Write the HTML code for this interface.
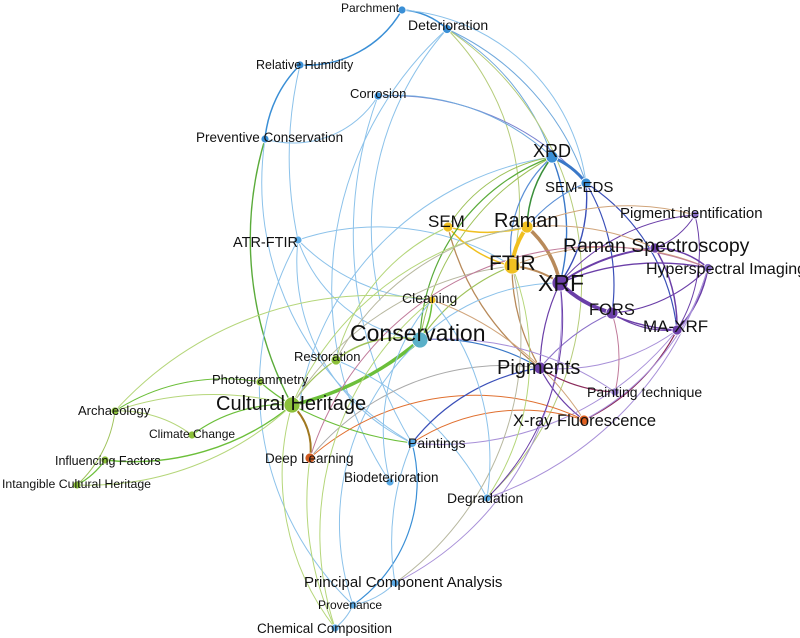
<!DOCTYPE html>
<html><head><meta charset="utf-8"><style>
html,body{margin:0;padding:0;background:#fff;width:800px;height:638px;overflow:hidden}
svg{display:block}
text{font-family:"Liberation Sans",sans-serif;fill:#111}
</style></head><body>
<svg width="800" height="638" viewBox="0 0 800 638" xmlns="http://www.w3.org/2000/svg">
<g fill="none" stroke-linecap="round">
<path d="M402 10 A70 70 0 0 1 447 29" stroke="#3a8fd6" stroke-width="1.5"/>
<path d="M402 10 A110 110 0 0 1 300 65" stroke="#3a8fd6" stroke-width="1.5"/>
<path d="M300 65 A120 120 0 0 0 265 139" stroke="#3a8fd6" stroke-width="1.5"/>
<path d="M265 139 A100 100 0 0 0 378 96" stroke="#8cc2ea" stroke-width="1"/>
<path d="M300 65 A400 400 0 0 0 298 240" stroke="#8cc2ea" stroke-width="1"/>
<path d="M402 10 A200 200 0 0 1 586 183" stroke="#8cc2ea" stroke-width="1"/>
<path d="M447 29 A230 230 0 0 1 552 157" stroke="#6fa8dc" stroke-width="1"/>
<path d="M447 29 A260 260 0 0 1 586 183" stroke="#6fa8dc" stroke-width="1"/>
<path d="M447 29 A300 300 0 0 0 380 300" stroke="#8cc2ea" stroke-width="1"/>
<path d="M447 29 A250 250 0 0 1 512 266" stroke="#b5cc7a" stroke-width="1"/>
<path d="M447 29 A300 300 0 0 1 487 498" stroke="#b5cc7a" stroke-width="1"/>
<path d="M447 29 A350 350 0 0 0 390 482" stroke="#8cc2ea" stroke-width="1"/>
<path d="M378 96 A260 260 0 0 1 586 183" stroke="#7b82d0" stroke-width="1"/>
<path d="M378 96 A230 230 0 0 1 552 157" stroke="#6fa8dc" stroke-width="1"/>
<path d="M378 96 A400 400 0 0 0 412 443" stroke="#8cc2ea" stroke-width="1"/>
<path d="M265 139 A350 350 0 0 0 292 405" stroke="#5aab3a" stroke-width="1.4"/>
<path d="M265 139 A300 300 0 0 0 412 443" stroke="#8cc2ea" stroke-width="1"/>
<path d="M552 157 A300 300 0 0 0 300 400" stroke="#8cc2ea" stroke-width="1"/>
<path d="M552 157 A250 250 0 0 0 420 340" stroke="#9fc25a" stroke-width="1"/>
<path d="M298 240 A200 200 0 0 0 432 300" stroke="#8cc2ea" stroke-width="1"/>
<path d="M298 240 A250 250 0 0 1 512 266" stroke="#8cc2ea" stroke-width="1"/>
<path d="M298 240 A150 150 0 0 0 420 340" stroke="#8cc2ea" stroke-width="1"/>
<path d="M298 240 A200 200 0 0 0 412 443" stroke="#8cc2ea" stroke-width="1"/>
<path d="M298 240 A300 300 0 0 0 353 605" stroke="#8cc2ea" stroke-width="1"/>
<path d="M552 157 A80 80 0 0 1 586 183" stroke="#3a78c8" stroke-width="3"/>
<path d="M552 157 A120 120 0 0 0 512 266" stroke="#5a8fd6" stroke-width="1.2"/>
<path d="M552 157 A200 200 0 0 1 560 283" stroke="#3a78c8" stroke-width="1.4"/>
<path d="M552 157 A120 120 0 0 0 527 227" stroke="#3a8f3a" stroke-width="1.5"/>
<path d="M552 157 A150 150 0 0 0 448 227" stroke="#9fc25a" stroke-width="1"/>
<path d="M586 183 A150 150 0 0 1 560 283" stroke="#3a4fb8" stroke-width="1.4"/>
<path d="M586 183 A150 150 0 0 0 527 227" stroke="#5a8fd6" stroke-width="1"/>
<path d="M586 183 A200 200 0 0 1 677 330" stroke="#3a4fb8" stroke-width="1.2"/>
<path d="M586 183 A200 200 0 0 1 612 313" stroke="#3a4fb8" stroke-width="1.2"/>
<path d="M527 227 A100 100 0 0 1 560 283" stroke="#b88a5a" stroke-width="3.5"/>
<path d="M512 266 A80 80 0 0 1 527 227" stroke="#f0c020" stroke-width="4"/>
<path d="M512 266 A120 120 0 0 1 448 227" stroke="#f0c020" stroke-width="1.5"/>
<path d="M448 227 A150 150 0 0 0 527 227" stroke="#f0c020" stroke-width="1.5"/>
<path d="M512 266 A100 100 0 0 1 560 283" stroke="#b88a5a" stroke-width="2"/>
<path d="M560 283 A120 120 0 0 0 612 313" stroke="#6b3fa8" stroke-width="4"/>
<path d="M560 283 A200 200 0 0 0 677 330" stroke="#6b3fa8" stroke-width="1.4"/>
<path d="M560 283 A200 200 0 0 1 655 248" stroke="#6b3fa8" stroke-width="2"/>
<path d="M560 283 A250 250 0 0 1 708 268" stroke="#6b3fa8" stroke-width="1.4"/>
<path d="M560 283 A200 200 0 0 0 540 368" stroke="#6b3fa8" stroke-width="1.2"/>
<path d="M560 283 A200 200 0 0 1 695 215" stroke="#6b3fa8" stroke-width="1"/>
<path d="M655 248 A80 80 0 0 1 708 268" stroke="#6b3fa8" stroke-width="1.5"/>
<path d="M655 248 A150 150 0 0 1 677 330" stroke="#6b3fa8" stroke-width="1.5"/>
<path d="M655 248 A80 80 0 0 0 695 215" stroke="#6b3fa8" stroke-width="1"/>
<path d="M708 268 A120 120 0 0 1 677 330" stroke="#6b3fa8" stroke-width="1.5"/>
<path d="M612 313 A100 100 0 0 0 677 330" stroke="#6b3fa8" stroke-width="1.2"/>
<path d="M612 313 A150 150 0 0 0 708 268" stroke="#6b3fa8" stroke-width="1.2"/>
<path d="M695 215 A150 150 0 0 1 677 330" stroke="#6b3fa8" stroke-width="1"/>
<path d="M512 266 A250 250 0 0 1 708 268" stroke="#d0a47a" stroke-width="1"/>
<path d="M527 227 A250 250 0 0 1 695 215" stroke="#d0a47a" stroke-width="1"/>
<path d="M527 227 A250 250 0 0 1 655 248" stroke="#d0a47a" stroke-width="1"/>
<path d="M448 227 A250 250 0 0 0 540 368" stroke="#b88a5a" stroke-width="1.3"/>
<path d="M512 266 A200 200 0 0 0 540 368" stroke="#b88a5a" stroke-width="1.3"/>
<path d="M540 368 A200 200 0 0 1 612 313" stroke="#8a6fc8" stroke-width="1"/>
<path d="M540 368 A150 150 0 0 0 584 420" stroke="#6b3fa8" stroke-width="1.2"/>
<path d="M540 368 A150 150 0 0 0 615 392" stroke="#8a2a5a" stroke-width="1.2"/>
<path d="M540 368 A200 200 0 0 0 677 330" stroke="#a890d8" stroke-width="1"/>
<path d="M677 330 A200 200 0 0 1 584 420" stroke="#8a2a5a" stroke-width="1.2"/>
<path d="M677 330 A300 300 0 0 1 412 443" stroke="#a890d8" stroke-width="1"/>
<path d="M612 313 A150 150 0 0 1 615 392" stroke="#c07a9a" stroke-width="1"/>
<path d="M708 268 A250 250 0 0 1 584 420" stroke="#a890d8" stroke-width="1"/>
<path d="M708 268 A350 350 0 0 1 487 498" stroke="#a890d8" stroke-width="1"/>
<path d="M420 340 A300 300 0 0 1 292 405" stroke="#6cbf3a" stroke-width="3.5"/>
<path d="M420 340 A100 100 0 0 0 336 360" stroke="#9fc25a" stroke-width="1.5"/>
<path d="M420 340 A80 80 0 0 0 432 300" stroke="#6cbf3a" stroke-width="1.5"/>
<path d="M420 340 A200 200 0 0 1 512 266" stroke="#9fc25a" stroke-width="1.2"/>
<path d="M420 340 A200 200 0 0 1 552 157" stroke="#5aab3a" stroke-width="1.2"/>
<path d="M420 340 A200 200 0 0 1 540 368" stroke="#3a78c8" stroke-width="1.2"/>
<path d="M420 340 A200 200 0 0 1 560 283" stroke="#8cc2ea" stroke-width="1"/>
<path d="M420 340 A250 250 0 0 0 353 605" stroke="#8cc2ea" stroke-width="1"/>
<path d="M292 405 A200 200 0 0 1 260 382" stroke="#6cbf3a" stroke-width="1.2"/>
<path d="M292 405 A150 150 0 0 0 192 435" stroke="#6cbf3a" stroke-width="1.2"/>
<path d="M292 405 A250 250 0 0 1 105 460" stroke="#6cbf3a" stroke-width="1.4"/>
<path d="M292 405 A300 300 0 0 1 77 485" stroke="#b5d67a" stroke-width="1"/>
<path d="M292 405 A300 300 0 0 0 115 411" stroke="#b5d67a" stroke-width="1"/>
<path d="M260 382 A200 200 0 0 0 115 411" stroke="#6cbf3a" stroke-width="1"/>
<path d="M115 411 A120 120 0 0 1 192 435" stroke="#b5d67a" stroke-width="1"/>
<path d="M115 411 A120 120 0 0 1 77 485" stroke="#9fc25a" stroke-width="1"/>
<path d="M115 411 A350 350 0 0 1 432 300" stroke="#b5d67a" stroke-width="1"/>
<path d="M105 460 A80 80 0 0 1 77 485" stroke="#6cbf3a" stroke-width="1.2"/>
<path d="M292 405 A60 60 0 0 1 310 458" stroke="#a07820" stroke-width="2"/>
<path d="M292 405 A150 150 0 0 1 336 360" stroke="#9fc25a" stroke-width="1.2"/>
<path d="M292 405 A300 300 0 0 1 512 266" stroke="#b8b8a0" stroke-width="1"/>
<path d="M292 405 A300 300 0 0 1 527 227" stroke="#b5d67a" stroke-width="1"/>
<path d="M292 405 A250 250 0 0 0 335 628" stroke="#b5d67a" stroke-width="1"/>
<path d="M292 405 A350 350 0 0 0 412 443" stroke="#6cbf3a" stroke-width="1"/>
<path d="M336 360 A200 200 0 0 1 448 227" stroke="#b5d67a" stroke-width="1"/>
<path d="M336 360 A250 250 0 0 1 527 227" stroke="#b8b8a0" stroke-width="1"/>
<path d="M336 360 A300 300 0 0 1 487 498" stroke="#8cc2ea" stroke-width="1"/>
<path d="M310 458 A250 250 0 0 1 584 420" stroke="#e07030" stroke-width="1"/>
<path d="M310 458 A300 300 0 0 1 708 268" stroke="#c07a9a" stroke-width="1"/>
<path d="M310 458 A250 250 0 0 1 540 368" stroke="#aaaaaa" stroke-width="1"/>
<path d="M310 458 A300 300 0 0 0 335 628" stroke="#b5d67a" stroke-width="1"/>
<path d="M412 443 A200 200 0 0 1 540 368" stroke="#3a4fb8" stroke-width="1.2"/>
<path d="M412 443 A200 200 0 0 1 584 420" stroke="#e07030" stroke-width="1"/>
<path d="M412 443 A150 150 0 0 1 353 605" stroke="#3a8fd6" stroke-width="1.2"/>
<path d="M412 443 A250 250 0 0 0 395 583" stroke="#8cc2ea" stroke-width="1"/>
<path d="M395 583 A80 80 0 0 1 353 605" stroke="#8cc2ea" stroke-width="1"/>
<path d="M353 605 A60 60 0 0 1 335 628" stroke="#8cc2ea" stroke-width="1"/>
<path d="M395 583 A300 300 0 0 0 512 266" stroke="#b8b8a0" stroke-width="1"/>
<path d="M395 583 A300 300 0 0 0 560 283" stroke="#a890d8" stroke-width="1"/>
<path d="M487 498 A250 250 0 0 0 512 266" stroke="#b5d67a" stroke-width="1"/>
<path d="M487 498 A250 250 0 0 0 560 283" stroke="#6b3fa8" stroke-width="1"/>
<path d="M487 498 A250 250 0 0 0 432 300" stroke="#8cc2ea" stroke-width="1"/>
<path d="M390 482 A200 200 0 0 1 432 300" stroke="#8cc2ea" stroke-width="1"/>
<path d="M584 420 A300 300 0 0 0 432 300" stroke="#d0a47a" stroke-width="1"/>
<path d="M615 392 A300 300 0 0 0 420 340" stroke="#a890d8" stroke-width="1"/>
<path d="M335 628 A300 300 0 0 1 432 300" stroke="#b5d67a" stroke-width="1"/>
</g>
<g stroke="#fff" stroke-width="0.8">
<circle cx="402" cy="10" r="4" fill="#3a8fd6"/>
<circle cx="447" cy="29" r="4.5" fill="#3a8fd6"/>
<circle cx="300" cy="65" r="4" fill="#3a8fd6"/>
<circle cx="378" cy="96" r="4" fill="#3a8fd6"/>
<circle cx="265" cy="139" r="4" fill="#3a8fd6"/>
<circle cx="552" cy="157" r="6" fill="#3a8fd6"/>
<circle cx="586" cy="183" r="5" fill="#3a8fd6"/>
<circle cx="695" cy="215" r="4" fill="#8a6fc8"/>
<circle cx="448" cy="227" r="5" fill="#f0c020"/>
<circle cx="527" cy="227" r="6" fill="#f0c020"/>
<circle cx="298" cy="240" r="4" fill="#5aaae6"/>
<circle cx="655" cy="248" r="5" fill="#6b3fa8"/>
<circle cx="512" cy="266" r="8" fill="#f0c020"/>
<circle cx="708" cy="268" r="4.5" fill="#8a6fc8"/>
<circle cx="560" cy="283" r="8" fill="#6b3fa8"/>
<circle cx="432" cy="300" r="4" fill="#f0c020"/>
<circle cx="612" cy="313" r="6" fill="#6b3fa8"/>
<circle cx="420" cy="340" r="8" fill="#5ab0c8"/>
<circle cx="677" cy="330" r="5" fill="#6b3fa8"/>
<circle cx="336" cy="360" r="5" fill="#8cc03a"/>
<circle cx="540" cy="368" r="6" fill="#6b3fa8"/>
<circle cx="260" cy="382" r="4" fill="#8cc03a"/>
<circle cx="292" cy="405" r="8" fill="#8cc03a"/>
<circle cx="115" cy="411" r="4" fill="#8cc03a"/>
<circle cx="615" cy="392" r="4" fill="#8a6fc8"/>
<circle cx="192" cy="435" r="4" fill="#8cc03a"/>
<circle cx="584" cy="420" r="5" fill="#e06020"/>
<circle cx="412" cy="443" r="4.5" fill="#5aaae6"/>
<circle cx="105" cy="460" r="4" fill="#8cc03a"/>
<circle cx="310" cy="458" r="5" fill="#d05a20"/>
<circle cx="77" cy="485" r="4" fill="#8cc03a"/>
<circle cx="390" cy="482" r="4" fill="#5aaae6"/>
<circle cx="487" cy="498" r="4" fill="#5aaae6"/>
<circle cx="395" cy="583" r="4" fill="#5aaae6"/>
<circle cx="353" cy="605" r="4" fill="#5aaae6"/>
<circle cx="335" cy="628" r="4" fill="#5aaae6"/>
</g>
<g>
<text x="341" y="12" font-size="12">Parchment</text>
<text x="408" y="30" font-size="14">Deterioration</text>
<text x="256" y="69" font-size="12.5">Relative Humidity</text>
<text x="350" y="98" font-size="13">Corrosion</text>
<text x="196" y="142" font-size="13.5">Preventive Conservation</text>
<text x="533" y="157" font-size="18">XRD</text>
<text x="545" y="192" font-size="15">SEM-EDS</text>
<text x="620" y="218" font-size="15">Pigment identification</text>
<text x="428" y="227" font-size="17">SEM</text>
<text x="494" y="227" font-size="20">Raman</text>
<text x="233" y="247" font-size="14.5">ATR-FTIR</text>
<text x="563" y="252" font-size="19.5">Raman Spectroscopy</text>
<text x="489" y="270" font-size="21">FTIR</text>
<text x="646" y="274" font-size="16">Hyperspectral Imaging</text>
<text x="538" y="291" font-size="23">XRF</text>
<text x="402" y="303" font-size="14">Cleaning</text>
<text x="589" y="315" font-size="16.5">FORS</text>
<text x="350" y="341" font-size="23">Conservation</text>
<text x="643" y="332" font-size="17">MA-XRF</text>
<text x="294" y="361" font-size="13">Restoration</text>
<text x="497" y="374" font-size="20">Pigments</text>
<text x="212" y="384" font-size="13">Photogrammetry</text>
<text x="78" y="415" font-size="13">Archaeology</text>
<text x="216" y="410" font-size="20">Cultural Heritage</text>
<text x="587" y="397" font-size="14">Painting technique</text>
<text x="149" y="438" font-size="12">Climate Change</text>
<text x="513" y="426" font-size="16.5">X-ray Fluorescence</text>
<text x="408" y="448" font-size="14">Paintings</text>
<text x="55" y="465" font-size="12.5">Influencing Factors</text>
<text x="265" y="463" font-size="13.5">Deep Learning</text>
<text x="2" y="488" font-size="12.3">Intangible Cultural Heritage</text>
<text x="344" y="482" font-size="13.5">Biodeterioration</text>
<text x="447" y="503" font-size="14">Degradation</text>
<text x="304" y="587" font-size="15">Principal Component Analysis</text>
<text x="318" y="609" font-size="12">Provenance</text>
<text x="257" y="633" font-size="13.5">Chemical Composition</text>
</g>
</svg>
</body></html>
